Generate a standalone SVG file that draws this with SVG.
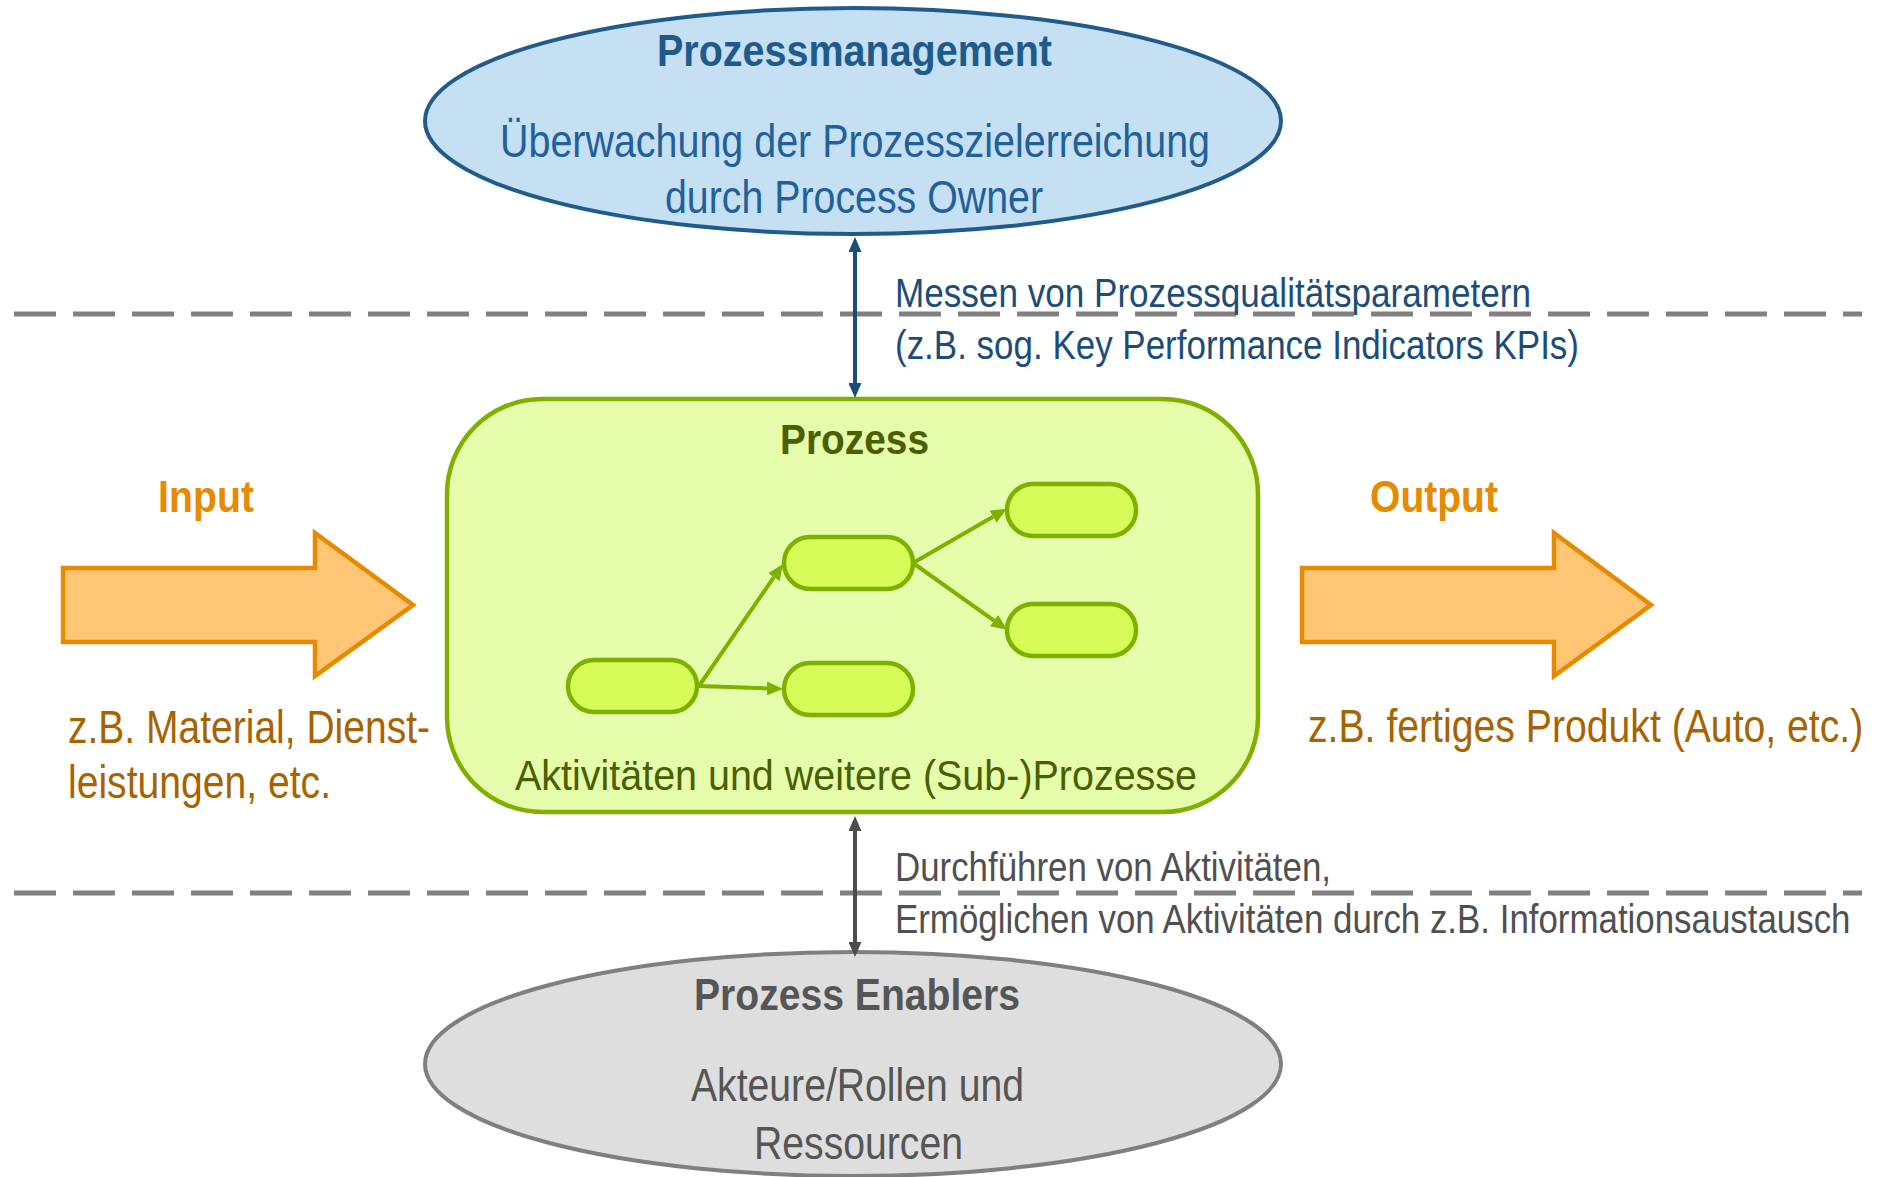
<svg xmlns="http://www.w3.org/2000/svg" width="1877" height="1177" viewBox="0 0 1877 1177">
<style>
  text { font-family: "Liberation Sans", Arial, sans-serif; }
  .b { font-weight: bold; }
  .dash { stroke: #808080; stroke-width: 5; stroke-dasharray: 42 17; fill: none; }
  .pm-t { fill: #1F5A8A; font-size: 44px; }
  .pm { fill: #22609A; font-size: 46px; }
  .kpi { fill: #1B4D78; font-size: 40px; }
  .pr-t { fill: #4A6000; font-size: 43px; }
  .pr { fill: #4A6000; font-size: 42px; }
  .io-t { fill: #E68A00; font-size: 44px; }
  .io { fill: #A66300; font-size: 46px; }
  .en-t { fill: #555555; font-size: 44px; }
  .en { fill: #555555; font-size: 46px; }
  .lab { fill: #505050; font-size: 40px; }
  .node { fill: #D5FC58; stroke: #7FB000; stroke-width: 4.5; }
  .flow { stroke: #7FB000; stroke-width: 4; fill: none; marker-end: url(#ag); }
  .big { fill: #FEC674; stroke: #E68A00; stroke-width: 4.5; stroke-linejoin: miter; }
</style>
<defs>
  <marker id="ab" markerUnits="userSpaceOnUse" markerWidth="15" markerHeight="13" refX="0" refY="6.5" orient="auto-start-reverse">
    <path d="M0,0 L15,6.5 L0,13 z" fill="#1A4E78"/>
  </marker>
  <marker id="ak" markerUnits="userSpaceOnUse" markerWidth="15" markerHeight="13" refX="0" refY="6.5" orient="auto-start-reverse">
    <path d="M0,0 L15,6.5 L0,13 z" fill="#4D4D4D"/>
  </marker>
  <marker id="ag" markerUnits="userSpaceOnUse" markerWidth="16" markerHeight="14" refX="0" refY="7" orient="auto">
    <path d="M0,0 L16,7 L0,14 z" fill="#7FB000"/>
  </marker>
</defs>
<rect width="1877" height="1177" fill="#FFFFFF"/>

<g id="separators">
  <line class="dash" x1="14" y1="314" x2="1862" y2="314"/>
  <line class="dash" x1="14" y1="893" x2="1862" y2="893"/>
</g>

<g id="prozessmanagement">
  <ellipse cx="853" cy="121" rx="428" ry="113" fill="#C5DFF3" stroke="#1F5C8B" stroke-width="4"/>
  <text class="pm-t b" x="657" y="66" textLength="395" lengthAdjust="spacingAndGlyphs">Prozessmanagement</text>
  <text class="pm" x="500" y="157" textLength="710" lengthAdjust="spacingAndGlyphs">Überwachung der Prozesszielerreichung</text>
  <text class="pm" x="665" y="213" textLength="378" lengthAdjust="spacingAndGlyphs">durch Process Owner</text>
</g>

<g id="prozess">
  <rect x="447" y="399" width="811" height="413" rx="95" ry="95" fill="#E6FDAB" stroke="#7FB000" stroke-width="4.5"/>
  <text class="pr-t b" x="780" y="454" textLength="149" lengthAdjust="spacingAndGlyphs">Prozess</text>
  <text class="pr" x="515" y="790" textLength="682" lengthAdjust="spacingAndGlyphs">Aktivitäten und weitere (Sub-)Prozesse</text>
</g>

<g id="activity-a"><rect class="node" x="568" y="660" width="129" height="52" rx="26" ry="26"/></g>
<g id="activity-b"><rect class="node" x="784" y="537" width="129" height="52" rx="26" ry="26"/></g>
<g id="activity-c"><rect class="node" x="784" y="663" width="129" height="52" rx="26" ry="26"/></g>
<g id="activity-d"><rect class="node" x="1007" y="484" width="129" height="52" rx="26" ry="26"/></g>
<g id="activity-e"><rect class="node" x="1007" y="604" width="129" height="52" rx="26" ry="26"/></g>

<g id="input">
  <polygon class="big" points="63,568 315,568 315,533 413,605 315,676 315,642 63,642"/>
  <text class="io-t b" x="158" y="512" textLength="96" lengthAdjust="spacingAndGlyphs">Input</text>
  <text class="io" x="68" y="743" textLength="362" lengthAdjust="spacingAndGlyphs">z.B. Material, Dienst-</text>
  <text class="io" x="68" y="798" textLength="263" lengthAdjust="spacingAndGlyphs">leistungen, etc.</text>
</g>

<g id="output">
  <polygon class="big" points="1302,568 1554,568 1554,533 1651,605 1554,676 1554,642 1302,642"/>
  <text class="io-t b" x="1370" y="512" textLength="128" lengthAdjust="spacingAndGlyphs">Output</text>
  <text class="io" transform="translate(1308,742) scale(0.852,1)" x="0" y="0">z.B. fertiges Produkt (Auto, etc.)</text>
</g>

<g id="enablers">
  <ellipse cx="853" cy="1064" rx="428" ry="112" fill="#DEDEDE" stroke="#7F7F7F" stroke-width="4"/>
  <text class="en-t b" x="694" y="1010" textLength="326" lengthAdjust="spacingAndGlyphs">Prozess Enablers</text>
  <text class="en" x="691" y="1101" textLength="333" lengthAdjust="spacingAndGlyphs">Akteure/Rollen und</text>
  <text class="en" x="754" y="1159" textLength="209" lengthAdjust="spacingAndGlyphs">Ressourcen</text>
</g>

<g id="connectors">
  <line x1="855" y1="252" x2="855" y2="383" stroke="#1A4E78" stroke-width="4" marker-start="url(#ab)" marker-end="url(#ab)"/>
  <line x1="855" y1="831" x2="855" y2="942" stroke="#4D4D4D" stroke-width="4" marker-start="url(#ak)" marker-end="url(#ak)"/>
  <line class="flow" x1="699" y1="686" x2="773.9" y2="577.2"/>
  <line class="flow" x1="699" y1="686" x2="767" y2="688.4"/>
  <line class="flow" x1="913" y1="563" x2="993" y2="516.7"/>
  <line class="flow" x1="913" y1="563" x2="994" y2="620.6"/>
</g>

<g id="connector-labels">
  <text class="kpi" x="895" y="307" textLength="636" lengthAdjust="spacingAndGlyphs">Messen von Prozessqualitätsparametern</text>
  <text class="kpi" x="895" y="359" textLength="684" lengthAdjust="spacingAndGlyphs">(z.B. sog. Key Performance Indicators KPIs)</text>
  <text class="lab" x="895" y="881" textLength="436" lengthAdjust="spacingAndGlyphs">Durchführen von Aktivitäten,</text>
  <text class="lab" transform="translate(895,933) scale(0.872,1)" x="0" y="0">Ermöglichen von Aktivitäten durch z.B. Informationsaustausch</text>
</g>
</svg>
